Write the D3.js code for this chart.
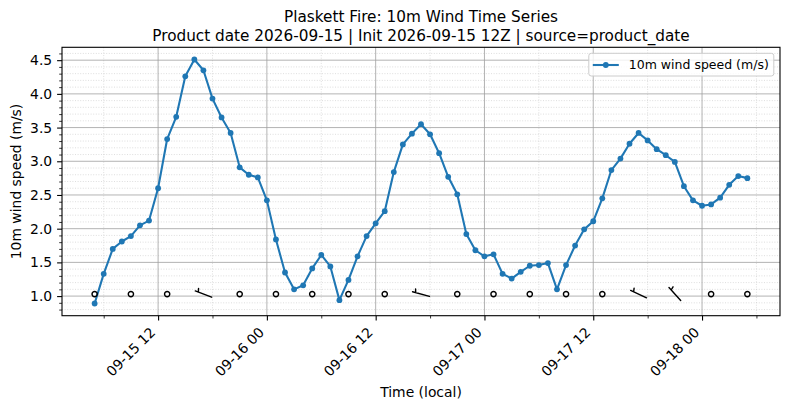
<!DOCTYPE html>
<html>
<head>
<meta charset="utf-8">
<script src="https://cdn.jsdelivr.net/npm/d3@7"></script>
<style>
  body { margin: 0; background: #fff; }
  text { font-family: "DejaVu Sans", sans-serif; fill: #000; }
</style>
</head>
<body>
<div id="chart"></div>
<script>
// Hourly 10m wind speed (m/s), local time, first value at startTime
var startTime = '2026-09-15 05:00'
var windSpeed = [
  0.89, 1.33, 1.70, 1.81, 1.89, 2.05, 2.12, 2.60, 3.33, 3.66, 4.26, 4.51,
  4.35, 3.93, 3.65, 3.42, 2.91, 2.80, 2.76, 2.42, 1.84, 1.35, 1.10, 1.16,
  1.41, 1.61, 1.44, 0.94, 1.24, 1.59, 1.89, 2.08, 2.26, 2.84, 3.25, 3.41,
  3.55, 3.40, 3.12, 2.77, 2.51, 1.92, 1.68, 1.59, 1.62, 1.33, 1.26, 1.36,
  1.45, 1.46, 1.49, 1.10, 1.46, 1.75, 1.99, 2.11, 2.45, 2.87, 3.04, 3.26,
  3.42, 3.31, 3.18, 3.09, 2.99, 2.63, 2.42, 2.34, 2.36, 2.46, 2.65, 2.78,
  2.75
]
// Wind barbs every 4 hours (speed after rounding, m/s; direction wind is from, deg)
var barbEvery = 4
var barbSpeed = [0, 0, 0, 5, 0, 0, 0, 0, 0, 5, 0, 0, 0, 0, 0, 5, 5, 0, 0]
var barbDir = [0, 0, 0, 291, 0, 0, 0, 0, 0, 285, 0, 0, 0, 0, 0, 295, 318, 0, 0]
var barbLevel = 1.03

var titleLines = [
  'Plaskett Fire: 10m Wind Time Series',
  'Product date 2026-09-15 | Init 2026-09-15 12Z | source=product_date'
]
var xLabel = 'Time (local)'
var yLabel = '10m wind speed (m/s)'
var seriesName = '10m wind speed (m/s)'

var W = 790
var H = 409
var margin = { top: 47.3, left: 62, right: 10, bottom: H - 315.7 }
var width = W - margin.left - margin.right
var height = H - margin.top - margin.bottom
var blue = '#1f77b4'
var fontSize = 13.9

var parse = d3.utcParse('%Y-%m-%d %H:%M')
var t0 = parse(startTime)
// one timestamp per hourly value
var times = windSpeed.map((d, i) => d3.utcHour.offset(t0, i))
var data = windSpeed.map((v, i) => ({ t: times[i], v: v }))

var svg = d3
  .select('#chart')
  .append('svg')
  .attr('width', W)
  .attr('height', H)
var g = svg.append('g').attr('transform', `translate(${margin.left},${margin.top})`)

// matplotlib-like 5% margins
var tExt = d3.extent(times)
var tPad = (tExt[1] - tExt[0]) * 0.05
var x = d3
  .scaleUtc()
  .domain([new Date(+tExt[0] - tPad), new Date(+tExt[1] + tPad)])
  .range([0, width])
var vExt = d3.extent(windSpeed)
var vPad = (vExt[1] - vExt[0]) * 0.05
var y = d3
  .scaleLinear()
  .domain([vExt[0] - vPad, vExt[1] + vPad])
  .range([height, 0])

var xMajor = d3.utcHour.every(12).range(x.domain()[0], x.domain()[1])
var xMinor = d3.utcHour.every(6).range(x.domain()[0], x.domain()[1])
  .filter(d => d.getUTCHours() % 12 !== 0)
var yMajor = y.ticks(8)
var yMinor = y.ticks(40).filter(d => Math.abs(d * 2 - Math.round(d * 2)) > 1e-6)

// minor grid (dotted)
var grid = g.append('g').attr('class', 'grid')
grid
  .selectAll('.ymin')
  .data(yMinor)
  .enter()
  .append('line')
  .attr('x1', 0)
  .attr('x2', width)
  .attr('y1', d => y(d))
  .attr('y2', d => y(d))
  .attr('stroke', '#c8c8c8')
  .attr('stroke-width', 0.6)
  .attr('stroke-dasharray', '1,1.6')
grid
  .selectAll('.xmin')
  .data(xMinor)
  .enter()
  .append('line')
  .attr('x1', d => x(d))
  .attr('x2', d => x(d))
  .attr('y1', 0)
  .attr('y2', height)
  .attr('stroke', '#c8c8c8')
  .attr('stroke-width', 0.6)
  .attr('stroke-dasharray', '1,1.6')
// major grid
grid
  .selectAll('.ymaj')
  .data(yMajor)
  .enter()
  .append('line')
  .attr('x1', 0)
  .attr('x2', width)
  .attr('y1', d => y(d))
  .attr('y2', d => y(d))
  .attr('stroke', '#a0a0a0')
  .attr('stroke-width', 0.8)
grid
  .selectAll('.xmaj')
  .data(xMajor)
  .enter()
  .append('line')
  .attr('x1', d => x(d))
  .attr('x2', d => x(d))
  .attr('y1', 0)
  .attr('y2', height)
  .attr('stroke', '#a0a0a0')
  .attr('stroke-width', 0.8)

// series
var line = d3
  .line()
  .x(d => x(d.t))
  .y(d => y(d.v))
g.append('path')
  .datum(data)
  .attr('d', line)
  .attr('fill', 'none')
  .attr('stroke', blue)
  .attr('stroke-width', 2.08)
  .attr('stroke-linejoin', 'round')
g.append('g')
  .selectAll('circle')
  .data(data)
  .enter()
  .append('circle')
  .attr('cx', d => x(d.t))
  .attr('cy', d => y(d.v))
  .attr('r', 2.9)
  .attr('fill', blue)

// wind barbs (pivot in the middle, half barb = 5)
var barbLen = 17.5
var barbs = barbSpeed.map((s, i) => ({ t: times[i * barbEvery], s: s, dir: barbDir[i] }))
g.append('g')
  .attr('class', 'barbs')
  .selectAll('g')
  .data(barbs)
  .enter()
  .append('g')
  .attr('transform', d => `translate(${x(d.t)},${y(barbLevel)})`)
  .each(function(d) {
    var b = d3.select(this)
    if (d.s < 2.5) {
      b.append('circle')
        .attr('r', barbLen * 0.15)
        .attr('fill', 'none')
        .attr('stroke', '#000')
        .attr('stroke-width', 1.4)
      return
    }
    // unit vector pointing toward where the wind comes from (screen coords)
    var a = (d.dir * Math.PI) / 180
    var dx = Math.sin(a)
    var dy = -Math.cos(a)
    var px = -dy
    var py = dx
    var tip = [-dx * barbLen / 2, -dy * barbLen / 2]
    var end = [dx * barbLen / 2, dy * barbLen / 2]
    var off = barbLen - 1.5 * 0.125 * barbLen
    var base = [tip[0] + dx * off, tip[1] + dy * off]
    var hh = (0.4 * barbLen) / 2
    var ww = (0.25 * barbLen) / 4
    var tick = [base[0] + px * hh + dx * ww, base[1] + py * hh + dy * ww]
    b.append('path')
      .attr('d', `M${tip}L${end}M${base}L${tick}`)
      .attr('fill', 'none')
      .attr('stroke', '#000')
      .attr('stroke-width', 1.4)
      .attr('stroke-linecap', 'round')
  })

// axes
var xAxis = g
  .append('g')
  .attr('transform', `translate(0,${height})`)
  .call(
    d3
      .axisBottom(x)
      .tickValues(xMajor)
      .tickSize(4.9)
      .tickFormat(d3.utcFormat('%m-%d %H'))
  )
xAxis.select('.domain').remove()
xAxis.selectAll('line').attr('stroke', '#000').attr('stroke-width', 1.1)
xAxis
  .selectAll('text')
  .attr('font-size', fontSize)
  .attr('fill', '#000')
  .attr('text-anchor', 'end')
  .attr('x', -2.3)
  .attr('y', 17.5)
  .attr('dy', 0)
  .attr('transform', 'rotate(-45,-2.3,17.5)')
var xAxisMinor = g
  .append('g')
  .attr('transform', `translate(0,${height})`)
  .call(d3.axisBottom(x).tickValues(xMinor).tickSize(2.8).tickFormat(''))
xAxisMinor.select('.domain').remove()
xAxisMinor.selectAll('line').attr('stroke', '#000').attr('stroke-width', 0.8)

var yAxis = g
  .append('g')
  .call(
    d3
      .axisLeft(y)
      .tickValues(yMajor)
      .tickSize(4.9)
      .tickPadding(4.9)
      .tickFormat(d3.format('.1f'))
  )
yAxis.select('.domain').remove()
yAxis.selectAll('line').attr('stroke', '#000').attr('stroke-width', 1.1)
yAxis.selectAll('text').attr('font-size', fontSize).attr('fill', '#000').attr('font-family', 'DejaVu Sans')
var yAxisMinor = g
  .append('g')
  .call(d3.axisLeft(y).tickValues(yMinor).tickSize(2.8).tickFormat(''))
yAxisMinor.select('.domain').remove()
yAxisMinor.selectAll('line').attr('stroke', '#000').attr('stroke-width', 0.8)

// spines
g.append('rect')
  .attr('width', width)
  .attr('height', height)
  .attr('fill', 'none')
  .attr('stroke', '#000')
  .attr('stroke-width', 1.1)

// legend
var legend = g.append('g').attr('transform', `translate(${width - 6.2 - 185},${6})`)
legend
  .append('rect')
  .attr('width', 185)
  .attr('height', 22.7)
  .attr('rx', 2.5)
  .attr('fill', '#fff')
  .attr('fill-opacity', 0.8)
  .attr('stroke', '#cccccc')
  .attr('stroke-width', 1)
legend
  .append('line')
  .attr('x1', 4)
  .attr('x2', 30)
  .attr('y1', 11.7)
  .attr('y2', 11.7)
  .attr('stroke', blue)
  .attr('stroke-width', 2.08)
legend
  .append('circle')
  .attr('cx', 17)
  .attr('cy', 11.7)
  .attr('r', 2.9)
  .attr('fill', blue)
legend
  .append('text')
  .attr('x', 40)
  .attr('y', 16)
  .attr('font-size', 12.5)
  .text(seriesName)

// titles and labels
svg
  .append('g')
  .selectAll('text')
  .data(titleLines)
  .enter()
  .append('text')
  .attr('x', margin.left + width / 2)
  .attr('y', (d, i) => 22 + i * 19)
  .attr('text-anchor', 'middle')
  .attr('font-size', 15.28)
  .text(d => d)
svg
  .append('text')
  .attr('x', margin.left + width / 2)
  .attr('y', 396.5)
  .attr('text-anchor', 'middle')
  .attr('font-size', fontSize)
  .text(xLabel)
svg
  .append('text')
  .attr('transform', `translate(21,${margin.top + height / 2}) rotate(-90)`)
  .attr('text-anchor', 'middle')
  .attr('font-size', fontSize)
  .text(yLabel)
</script>
</body>
</html>
